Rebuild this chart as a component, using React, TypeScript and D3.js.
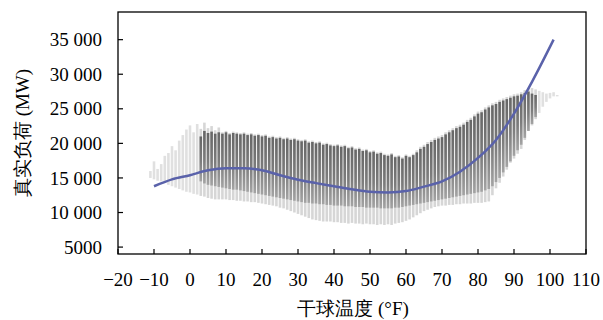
import React from 'react';
import * as d3 from 'd3';

// dry bulb temperature bins (°F), one column of load readings per bin
const tempF = [
  -11, -10, -9, -8, -7, -6, -5, -4, -3, -2,
  -1, 0, 1, 2, 3, 4, 5, 6, 7, 8,
  9, 10, 11, 12, 13, 14, 15, 16, 17, 18,
  19, 20, 21, 22, 23, 24, 25, 26, 27, 28,
  29, 30, 31, 32, 33, 34, 35, 36, 37, 38,
  39, 40, 41, 42, 43, 44, 45, 46, 47, 48,
  49, 50, 51, 52, 53, 54, 55, 56, 57, 58,
  59, 60, 61, 62, 63, 64, 65, 66, 67, 68,
  69, 70, 71, 72, 73, 74, 75, 76, 77, 78,
  79, 80, 81, 82, 83, 84, 85, 86, 87, 88,
  89, 90, 91, 92, 93, 94, 95, 96, 97, 98,
  99, 100, 101, 102,
];

// highest / lowest observed load in each bin (MW)
const loadMax = [
  16000, 17400, 16300, 17000, 18200, 18600, 19600, 19000, 20400, 21200,
  22000, 22600, 21600, 22800, 22100, 23000, 22200, 22500, 21900, 22300,
  21600, 21800, 21500, 21700, 21600, 21500, 21600, 21400, 21500, 21300,
  21400, 21200, 21300, 21000, 21100, 20900, 21000, 20800, 20900, 20700,
  20800, 20600, 20500, 20600, 20300, 20400, 20200, 20300, 20000, 20100,
  19900, 19800, 19900, 19700, 19800, 19500, 19600, 19300, 19400, 19100,
  19200, 18900, 19000, 18700, 18800, 18500, 18400, 18600, 18200, 18300,
  18000, 18400, 18200, 18500, 19000, 19500, 19800, 20200, 20500, 20800,
  21000, 21200, 21600, 21900, 22200, 22500, 22700, 23000, 23400, 23700,
  24200, 24600, 24800, 25200, 25500, 25800, 26000, 26300, 26500, 26700,
  26900, 27100, 27200, 27400, 27700, 28000, 28000, 27800, 27600, 27400,
  27200, 27300, 27400, 27000,
];

const loadMin = [
  15000, 14800, 14600, 14500, 14300, 14000, 13800, 13600, 13400, 13200,
  13000, 12900, 12700, 12600, 12400, 12300, 12100, 12000, 11900, 11900,
  11900, 11900, 11800, 11800, 11700, 11700, 11600, 11600, 11500, 11500,
  11400, 11300, 11200, 11100, 11000, 10900, 10700, 10600, 10400, 10200,
  10000, 9800, 9600, 9400, 9200, 9000, 8900, 8800, 8700, 8700,
  8700, 8600, 8600, 8500, 8500, 8400, 8500, 8400, 8400, 8300,
  8400, 8300, 8300, 8200, 8300, 8200, 8300, 8200, 8400, 8500,
  8600, 8800, 9000, 9300, 9600, 9900, 10200, 10400, 10600, 10800,
  10900, 11000, 11000, 11100, 11100, 11200, 11200, 11300, 11300, 11300,
  11400, 11400, 11400, 11500, 11600, 12500, 13500, 14300, 15200, 16200,
  17200, 17800, 18500, 19200, 20500, 21800, 22600, 23500, 24400, 25300,
  26000, 26500, 26800, 26800,
];

// dense part of each bin (MW); equal values = no dense part
const denseMax = [
  15500, 15500, 15500, 15500, 15500, 15500, 15500, 15500, 15500, 15500,
  15500, 15500, 15500, 15500, 21000, 21800, 21500, 21700, 21400, 21600,
  21400, 21600, 21300, 21500, 21400, 21300, 21400, 21200, 21300, 21100,
  21200, 21000, 21100, 20800, 20900, 20700, 20800, 20600, 20700, 20500,
  20600, 20400, 20300, 20400, 20100, 20200, 20000, 20100, 19800, 19900,
  19700, 19600, 19700, 19500, 19600, 19300, 19400, 19100, 19200, 18900,
  19000, 18700, 18800, 18500, 18600, 18300, 18200, 18400, 18000, 18100,
  17800, 18200, 18000, 18300, 18700, 19200, 19500, 19900, 20200, 20500,
  20700, 20900, 21300, 21600, 21900, 22200, 22400, 22700, 23100, 23400,
  23900, 24300, 24500, 24900, 25200, 25500, 25700, 26000, 26200, 26400,
  26600, 26800, 26900, 27100, 27300, 27500, 27200, 27000, 27000, 27000,
  27000, 27000, 27000, 27000,
];

const denseMin = [
  15500, 15500, 15500, 15500, 15500, 15500, 15500, 15500, 15500, 15500,
  15500, 15500, 15500, 15500, 14500, 14200, 14000, 13900, 13800, 13700,
  13600, 13500, 13400, 13300, 13300, 13200, 13100, 13000, 12900, 12800,
  12700, 12600, 12500, 12400, 12300, 12200, 12100, 12000, 11900, 11800,
  11700, 11600, 11500, 11400, 11400, 11300, 11300, 11200, 11200, 11100,
  11100, 11000, 11000, 11000, 10900, 10900, 10900, 10800, 10800, 10800,
  10700, 10700, 10700, 10700, 10600, 10600, 10600, 10600, 10700, 10700,
  10800, 10900, 11000, 11100, 11200, 11300, 11400, 11500, 11600, 11700,
  11800, 11900, 12000, 12100, 12200, 12300, 12400, 12500, 12600, 12700,
  12800, 12900, 13000, 13200, 13400, 13800, 14400, 15000, 15800, 16600,
  17400, 18200, 19000, 19800, 20800, 21800, 22800, 23800, 27000, 27000,
  27000, 27000, 27000, 27000,
];

// fitted curve
const fitTemp = [-10, -5, 0, 5, 10, 15, 20, 25, 30, 35, 40, 45, 50, 55, 60, 65, 70, 75, 80, 85, 90, 95, 101];
const fitLoad = [13800, 14800, 15400, 16100, 16400, 16400, 16100, 15400, 14750, 14250, 13800, 13350, 13000, 12900, 13100, 13750, 14500, 15900, 17900, 20500, 24300, 28900, 35000];

const xTicks = [-20, -10, 0, 10, 20, 30, 40, 50, 60, 70, 80, 90, 100, 110];
const xTickLabels = ['\u221220', '\u221210', '0', '10', '20', '30', '40', '50', '60', '70', '80', '90', '100', '110'];
const yTicks = [5000, 10000, 15000, 20000, 25000, 30000, 35000];
const yTickLabels = ['5000', '10 000', '15 000', '20 000', '25 000', '30 000', '35 000'];

const W = 603;
const H = 320;
const margin = { top: 12, right: 17, bottom: 66, left: 118 };
const font = 'serif';

export default function App() {
  const x = d3.scaleLinear().domain([-20, 110]).range([margin.left, W - margin.right]);
  const y = d3.scaleLinear().domain([4000, 39000]).range([H - margin.bottom, margin.top]);
  const colW = 2.6;
  const bottom = H - margin.bottom;

  const line = d3.line<number>()
    .x((_, i) => x(fitTemp[i]))
    .y((d) => y(d))
    .curve(d3.curveMonotoneX);

  return (
    <svg width={W} height={H} style={{ position: 'absolute', left: 0, top: 0, background: '#fff' }}>
      <defs>
        <linearGradient id="dense" x1="0" y1="0" x2="0" y2="1">
          <stop offset="0" stopColor="#666" />
          <stop offset="0.55" stopColor="#7c7c7c" />
          <stop offset="1" stopColor="#a4a4a4" />
        </linearGradient>
      </defs>
      <g>
        {tempF.map((t, i) => {
          const sparse = denseMax[i] === denseMin[i];
          return (
            <g key={t}>
              <rect x={x(t) - colW / 2} y={y(loadMax[i])} width={colW}
                height={y(loadMin[i]) - y(loadMax[i])} fill={sparse ? '#e0e0e0' : '#d6d6d6'} />
              {!sparse && (
                <rect x={x(t) - colW / 2} y={y(denseMax[i])} width={colW}
                  height={y(denseMin[i]) - y(denseMax[i])} fill="url(#dense)" />
              )}
            </g>
          );
        })}
      </g>
      <path d={line(fitLoad) ?? ''} fill="none" stroke="#5a62aa" strokeWidth={2.5} />

      <rect x={margin.left} y={margin.top} width={W - margin.left - margin.right}
        height={bottom - margin.top} fill="none" stroke="#000" strokeWidth={1.3} />

      <g fontFamily={font} fontSize={19} fill="#000">
        {xTicks.map((t, i) => (
          <g key={t}>
            <line x1={x(t)} x2={x(t)} y1={bottom} y2={bottom - 5} stroke="#000" strokeWidth={1.2} />
            <text x={x(t)} y={286} textAnchor="middle">{xTickLabels[i]}</text>
          </g>
        ))}
        {yTicks.map((v, i) => (
          <g key={v}>
            <line x1={margin.left} x2={margin.left + 5} y1={y(v)} y2={y(v)} stroke="#000" strokeWidth={1.2} />
            <text x={102} y={y(v)} dy="0.35em" textAnchor="end">{yTickLabels[i]}</text>
          </g>
        ))}
        <text x={353} y={315} textAnchor="middle">干球温度 (°F)</text>
        <text transform="translate(29,133) rotate(-90)" textAnchor="middle">真实负荷 (MW)</text>
      </g>
    </svg>
  );
}
